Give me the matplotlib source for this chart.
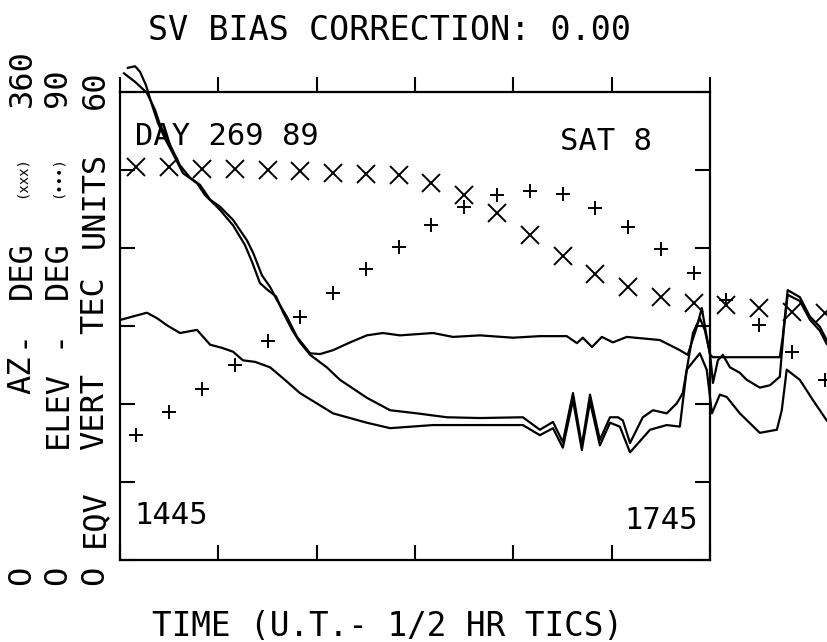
#график TEC спутника SAT 8 за 26.09.89, азимут (x) и угол места (+)

import matplotlib
matplotlib.use('Agg')
import matplotlib.pyplot as plt
import numpy as np

#время в минутах от 14:45 UT, значения в единицах TEC
c1_t = [1.2, 4.6, 8.2, 10.7, 12.2, 15.3, 18.3, 21.4, 24.4, 27.5, 30.5, 34.5, 38.7, 40.6,
        43.3, 45.8, 47.9, 50.9, 54.0, 58.0, 61.0, 65.0, 70.2, 75.3, 80.2, 85.4, 95.5, 101.6,
        109.8, 119.9, 128.1, 136.3, 139.4, 141.2, 144.0, 147.0, 150.4, 154.6, 164.7, 170.8,
        173.2, 176.0, 177.5, 179.0, 180.0, 180.9, 192.2, 201.3, 202.2, 203.7, 207.4, 210.5,
        213.5, 215.6]
c1_tec = [62.4, 61.3, 59.9, 57.7, 55.8, 53.2, 50.6, 49.0, 48.1, 46.2, 45.3, 43.6, 41.0, 39.4,
          36.5, 35.0, 33.3, 31.2, 28.6, 26.5, 26.4, 26.9, 27.9, 28.8, 29.1, 28.8, 29.1, 28.6,
          28.8, 28.5, 28.7, 28.7, 27.8, 28.5, 27.3, 28.6, 27.9, 28.6, 28.2, 26.9,
          26.3, 29.9, 32.3, 28.6, 26.3, 26.0, 26.0, 26.0, 28.6, 34.6, 33.7, 31.2,
          29.9, 28.2]

c2_t = [2.4, 4.6, 6.1, 7.9, 9.8, 11.6, 14.0, 15.9, 19.2, 23.5, 25.9, 30.5, 34.5, 38.1,
        40.3, 42.7, 45.1, 47.6, 49.7, 52.5, 54.9, 58.0, 63.1, 67.1, 75.3, 82.4, 90.6, 99.7,
        109.8, 122.9, 128.1, 132.1, 135.1, 138.2, 140.9, 143.4, 146.4, 149.5, 151.9, 153.4,
        155.6, 159.5, 162.6, 166.8, 169.9, 171.7, 174.8, 176.9, 178.4, 180.0, 180.9, 182.4,
        183.9, 186.1, 189.1, 191.2, 195.2, 198.3, 201.3, 202.5, 203.7, 207.4, 210.5, 213.5,
        215.6]
c2_tec = [63.1, 63.3, 62.6, 60.9, 58.3, 56.0, 53.8, 52.3, 49.6, 48.3, 46.8, 44.9, 42.9, 40.4,
          38.2, 35.5, 34.6, 33.8, 31.8, 29.5, 27.9, 26.3, 24.7, 23.1, 20.8, 19.2, 18.8, 18.3,
          18.2, 18.3, 16.7, 17.7, 15.1, 21.4, 14.7, 21.2, 15.4, 18.3, 18.3, 17.9,
          15.0, 18.3, 19.2, 18.8, 20.1, 21.4, 29.1, 31.0, 29.5, 26.5, 22.7, 25.6,
          26.3, 24.7, 24.0, 23.1, 22.1, 22.4, 23.5, 29.5, 34.0, 33.2, 30.8, 29.4,
          27.7]

c3_t = [0.3, 4.6, 8.2, 11.3, 14.3, 18.3, 23.5, 27.5, 31.1, 34.5, 37.5, 41.2, 45.8, 50.3,
        54.9, 65.0, 75.3, 82.4, 95.5, 109.8, 122.9, 128.1, 132.1, 135.1, 138.2, 140.9, 143.4,
        146.4, 149.5, 152.5, 155.6, 161.7, 166.8, 170.8, 172.9, 176.9, 179.0, 180.6, 183.0,
        185.1, 189.1, 195.2, 200.4, 201.9, 203.4, 207.4, 211.4, 215.6]
c3_tec = [30.8, 31.3, 31.7, 31.0, 30.1, 29.1, 29.5, 27.6, 27.2, 26.7, 25.6, 25.4, 24.7, 23.1,
          21.4, 18.8, 17.6, 16.9, 17.3, 17.3, 17.3, 16.0, 16.9, 14.4, 20.5, 14.1, 20.3,
          14.7, 17.6, 17.1, 13.8, 16.7, 17.3, 17.1, 24.4, 26.5, 24.4, 18.8, 21.2,
          20.9, 18.8, 16.3, 16.7, 19.2, 24.4, 23.1, 20.5, 17.9]

#отметки каждые 10 минут: азимут (0-360) и угол места (0-90), градусы
mark_t = [5, 15, 25, 35, 45, 55, 65, 75, 85, 95, 105, 115, 125, 135, 145, 155, 165, 175,
          185, 195, 205, 215]
az = [302, 302, 301, 301, 300, 299, 298, 297, 296, 290, 281, 267, 250, 234, 220, 210, 202,
      198, 196, 194, 191, 190]
elev = [24.0, 28.5, 32.9, 37.5, 42.1, 46.7, 51.3, 56.0, 60.2, 64.4, 67.9, 70.2, 71.0, 70.4,
        67.7, 64.0, 59.8, 55.2, 50.0, 45.2, 40.0, 34.6]

plt.rcParams['font.family'] = ['DejaVu Sans Mono']
W, H = 827, 642
fig = plt.figure(figsize=(W / 100, H / 100), dpi=100)
ax = fig.add_axes([120 / W, 1 - 560 / H, 590 / W, 468 / H])

#кривые TEC выходят за рамку, поэтому clip_on=False
for t, v in [(c1_t, c1_tec), (c2_t, c2_tec), (c3_t, c3_tec)]:
    ax.plot(t, v, color='black', lw=1.6, clip_on=False)

#азимут и угол места переводим в шкалу 0-60
ax.plot(mark_t, np.array(az) / 6, 'kx', ms=13, mew=1.4, clip_on=False)
ax.plot(mark_t, np.array(elev) / 1.5, 'k+', ms=10, mew=1.4, clip_on=False)

ax.set_xlim(0, 180)
ax.set_ylim(0, 60)
ax.set_xticks(np.arange(0, 181, 30))
ax.set_yticks(np.arange(0, 61, 10))
ax.tick_params(axis='both', length=11, width=1.5, labelbottom=False, labelleft=False)
ax.tick_params(axis='x', top=True, direction='in')
ax.tick_params(axis='y', right=True, direction='in')
for tl in ax.xaxis.get_ticklines()[1::2]:
    tl.set_marker(2)  # верхние штрихи наружу (вверх)
for s in ax.spines.values():
    s.set_linewidth(1.6)

fs = 22
ax.text(0.025, 0.905, 'DAY 269 89', transform=ax.transAxes, fontsize=fs, va='center')
ax.text(0.745, 0.895, 'SAT 8', transform=ax.transAxes, fontsize=fs, va='center')
ax.text(0.025, 0.095, '1445', transform=ax.transAxes, fontsize=fs, va='center')
ax.text(0.98, 0.085, '1745', transform=ax.transAxes, fontsize=fs, va='center', ha='right')

fig.text(390 / W, 1 - 30 / H, 'SV BIAS CORRECTION: 0.00', fontsize=24, ha='center', va='center')
fig.text(388 / W, 1 - 626 / H, 'TIME (U.T.- 1/2 HR TICS)', fontsize=23.5, ha='center', va='center')

#подписи оси y: три вертикальные строки
def vtext(x, y, s, size=23):
    fig.text(x / W, 1 - y / H, s, fontsize=size, rotation=90, ha='center', va='center')

vtext(22, 575, 'O'); vtext(22, 375, 'AZ'); vtext(22, 338, '-'); vtext(22, 270, 'DEG')
vtext(22, 177, '(xxx)', 10); vtext(22, 78, '360')
vtext(58, 575, 'O'); vtext(58, 410, 'ELEV'); vtext(58, 338, '-'); vtext(58, 270, 'DEG')
vtext(58, 177, '(•••)', 10); vtext(58, 88, '90')
vtext(95, 575, 'O'); vtext(95, 518, 'EQV'); vtext(95, 412, 'VERT'); vtext(95, 305, 'TEC')
vtext(95, 200, 'UNITS'); vtext(95, 90, '60')

fig.savefig('out.png', dpi=100)
